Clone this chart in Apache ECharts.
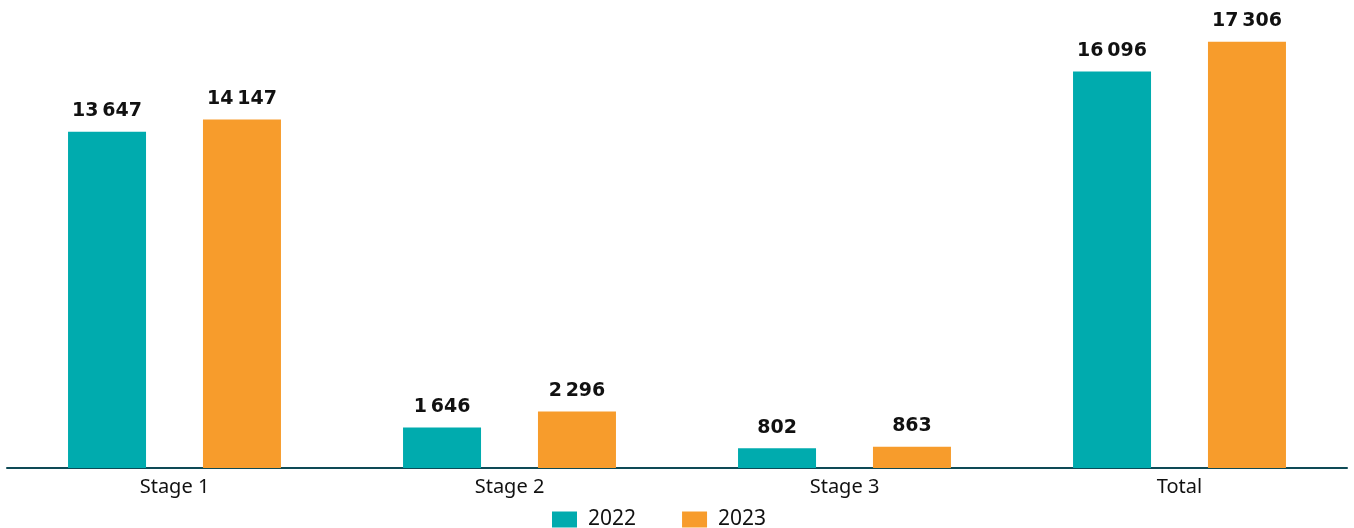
<!DOCTYPE html>
<html>
<head>
<meta charset="utf-8">
<script src="https://cdn.jsdelivr.net/npm/echarts@6/dist/echarts.min.js"></script>
<style>
  html, body { margin: 0; padding: 0; background: #ffffff; }
  #chart { width: 1354px; height: 528px; }
</style>
</head>
<body>
<div id="chart"></div>
<script>
// Categories and yearly values
const categories = ['Stage 1', 'Stage 2', 'Stage 3', 'Total'];
const values2022 = [13647, 1646, 802, 16096];
const values2023 = [14147, 2296, 863, 17306];
const seriesNames = ['2022', '2023'];

// Thousands grouped with a narrow space, e.g. "13 647"
function fmt(v) {
  return String(v).replace(/\B(?=(\d{3})+(?!\d))/g, '\u202F');
}

const labelStyle = {
  show: true,
  position: 'top',
  distance: 11,
  fontFamily: 'DejaVu Sans',
  fontWeight: 'bold',
  fontSize: 19,
  color: '#111111',
  formatter: p => fmt(p.value)
};

const chart = echarts.init(document.getElementById('chart'), null, { renderer: 'canvas' });
chart.setOption({
  animation: false,
  grid: { left: 7, right: 7, top: 0, bottom: 60, containLabel: false },
  legend: {
    top: 509,
    left: 552,
    padding: 0,
    itemWidth: 25,
    itemHeight: 16,
    itemGap: 46,
    icon: 'rect',
    textStyle: { fontFamily: 'Noto Sans', fontSize: 21, color: '#111111', padding: [0, 0, 0, 6] },
    data: seriesNames
  },
  xAxis: {
    type: 'category',
    data: categories,
    axisLine: { show: true, lineStyle: { color: '#0e4a56', width: 2 } },
    axisTick: { show: false },
    axisLabel: { fontFamily: 'Noto Sans', fontSize: 20, color: '#111111', margin: 9 }
  },
  yAxis: {
    type: 'value',
    min: 0,
    max: 19000,
    show: false,
    splitLine: { show: false }
  },
  series: [
    {
      name: seriesNames[0],
      type: 'bar',
      data: values2022,
      barWidth: 78,
      barGap: '73%',
      itemStyle: { color: '#00abae' },
      label: labelStyle
    },
    {
      name: seriesNames[1],
      type: 'bar',
      data: values2023,
      barWidth: 78,
      itemStyle: { color: '#f79c2c' },
      label: labelStyle
    }
  ]
});
</script>
</body>
</html>
